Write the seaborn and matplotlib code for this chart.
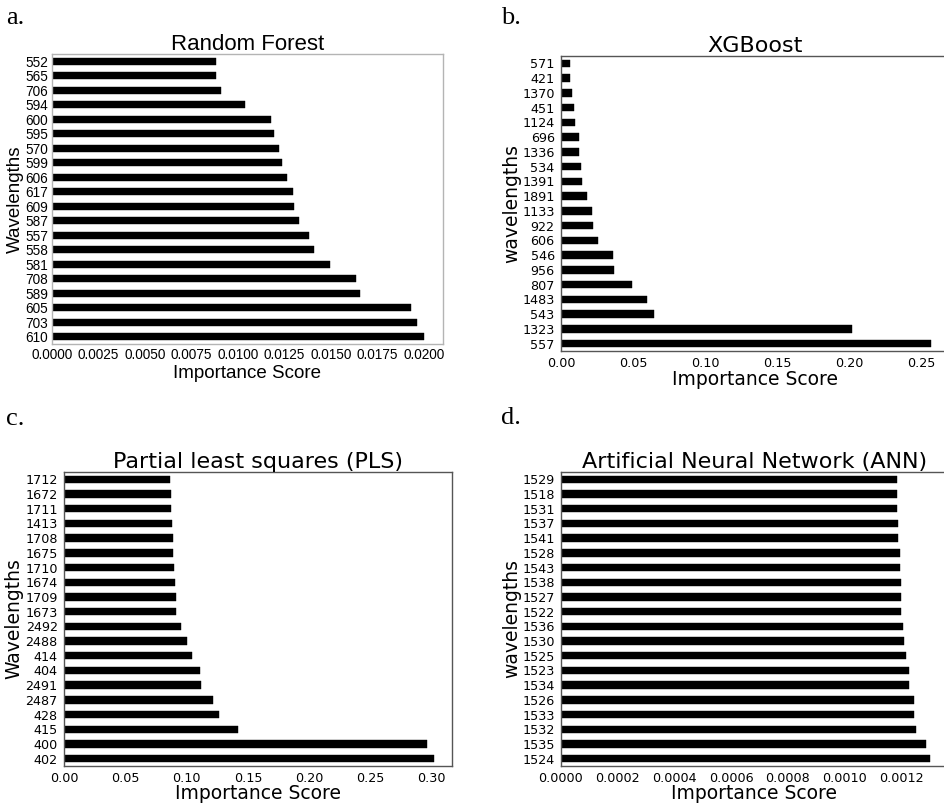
import matplotlib
matplotlib.use("Agg")
import matplotlib.pyplot as plt
import seaborn as sns
import pandas as pd
import numpy as np
from matplotlib.ticker import FormatStrFormatter

sns.set_style("white")
plt.rcParams["font.family"] = ["DejaVu Sans"]
plt.rcParams["text.color"] = "black"
plt.rcParams["axes.labelcolor"] = "black"
plt.rcParams["xtick.color"] = "black"
plt.rcParams["ytick.color"] = "black"

# Random Forest importances (top to bottom)
rf_wavelengths = ["552", "565", "706", "594", "600", "595", "570", "599", "606", "617",
                  "609", "587", "557", "558", "581", "708", "589", "605", "703", "610"]
rf_scores = [0.00881, 0.00884, 0.00911, 0.01040, 0.01175, 0.01196, 0.01220, 0.01236, 0.01266, 0.01295,
             0.01299, 0.01329, 0.01379, 0.01410, 0.01496, 0.01634, 0.01654, 0.01932, 0.01962, 0.02002]

# XGBoost importances
xgb_wavelengths = ["571", "421", "1370", "451", "1124", "696", "1336", "534", "1391", "1891",
                   "1133", "922", "606", "546", "956", "807", "1483", "543", "1323", "557"]
xgb_scores = [0.0060, 0.0062, 0.0079, 0.0088, 0.0095, 0.0122, 0.0127, 0.0139, 0.0145, 0.0178,
              0.0215, 0.0219, 0.0256, 0.0363, 0.0367, 0.0494, 0.0596, 0.0647, 0.2018, 0.2568]

# PLS importances
pls_wavelengths = ["1712", "1672", "1711", "1413", "1708", "1675", "1710", "1674", "1709", "1673",
                   "2492", "2488", "414", "404", "2491", "2487", "428", "415", "400", "402"]
pls_scores = [0.0864, 0.0872, 0.0875, 0.0883, 0.0889, 0.0890, 0.0894, 0.0905, 0.0913, 0.0914,
              0.0954, 0.1003, 0.1043, 0.1111, 0.1117, 0.1217, 0.1266, 0.1418, 0.2962, 0.3014]

# ANN importances
ann_wavelengths = ["1529", "1518", "1531", "1537", "1541", "1528", "1543", "1538", "1527", "1522",
                   "1536", "1530", "1525", "1523", "1534", "1526", "1533", "1532", "1535", "1524"]
ann_scores = [0.001184, 0.001184, 0.001186, 0.001188, 0.001188, 0.001194, 0.001196, 0.001199, 0.001199, 0.001200,
              0.001207, 0.001209, 0.001216, 0.001227, 0.001229, 0.001245, 0.001246, 0.001253, 0.001288, 0.001300]

W, H = 945, 806
fig = plt.figure(figsize=(W / 100, H / 100), dpi=100)


def px_axes(left, top, right, bottom):
    return fig.add_axes([left / W, 1 - bottom / H, (right - left) / W, (bottom - top) / H])


panels = [
    dict(box=(52, 54, 443, 344), wl=rf_wavelengths, sc=rf_scores, title="Random Forest",
         ylabel="Wavelengths", ticks=np.arange(0, 0.02001, 0.0025), fmt="%.4f",
         font="Liberation Sans", tfs=9.8, frame="#b4b4b4", ticklen=0, lpad=2,
         letter="a.", lpos=(6, 24)),
    dict(box=(561, 56, 950, 351), wl=xgb_wavelengths, sc=xgb_scores, title="XGBoost",
         ylabel="wavelengths", ticks=np.arange(0, 0.2501, 0.05), fmt="%.2f",
         font="DejaVu Sans", tfs=9.2, frame="#555555", ticklen=3, lpad=0,
         letter="b.", lpos=(501, 24)),
    dict(box=(64, 472, 452, 766), wl=pls_wavelengths, sc=pls_scores, title="Partial least squares (PLS)",
         ylabel="Wavelengths", ticks=np.arange(0, 0.3001, 0.05), fmt="%.2f",
         font="DejaVu Sans", tfs=9.2, frame="#555555", ticklen=3, lpad=-1,
         letter="c.", lpos=(6, 425)),
    dict(box=(561, 472, 948, 766), wl=ann_wavelengths, sc=ann_scores, title="Artificial Neural Network (ANN)",
         ylabel="wavelengths", ticks=np.arange(0, 0.00121, 0.0002), fmt="%.4f",
         font="DejaVu Sans", tfs=9.2, frame="#555555", ticklen=3, lpad=-1,
         letter="d.", lpos=(501, 424)),
]

for p in panels:
    ax = px_axes(*p["box"])
    df = pd.DataFrame({"wavelength": p["wl"], "score": p["sc"]})
    sns.barplot(data=df, x="score", y="wavelength", order=p["wl"], color="black",
                width=0.5, saturation=1, edgecolor="black", linewidth=0.3, ax=ax)
    ax.set_xlim(0, max(p["sc"]) * 1.05)
    ax.set_xticks(p["ticks"])
    ax.xaxis.set_major_formatter(FormatStrFormatter(p["fmt"]))
    f = p["font"]
    ax.set_title(p["title"], fontsize=16, family=f, pad=3, color="black")
    ax.set_xlabel("Importance Score", fontsize=13.5, family=f, labelpad=p["lpad"], color="black")
    ax.set_ylabel(p["ylabel"], fontsize=13.5, family=f, labelpad=1, color="black")
    for lab in ax.get_xticklabels() + ax.get_yticklabels():
        lab.set_family(f)
        lab.set_fontsize(p["tfs"])
    ax.tick_params(axis="both", length=p["ticklen"], width=0.8,
                   pad=1.5 if p["ticklen"] else 3, labelcolor="black", color=p["frame"])
    for s in ax.spines.values():
        s.set_visible(True)
        s.set_color(p["frame"])
        s.set_linewidth(1.0)
    ax.grid(False)
    fig.text(p["lpos"][0] / W, 1 - p["lpos"][1] / H, p["letter"], fontsize=19,
             family="Liberation Serif", ha="left", va="baseline", color="black")

fig.savefig("out.png", dpi=100)
